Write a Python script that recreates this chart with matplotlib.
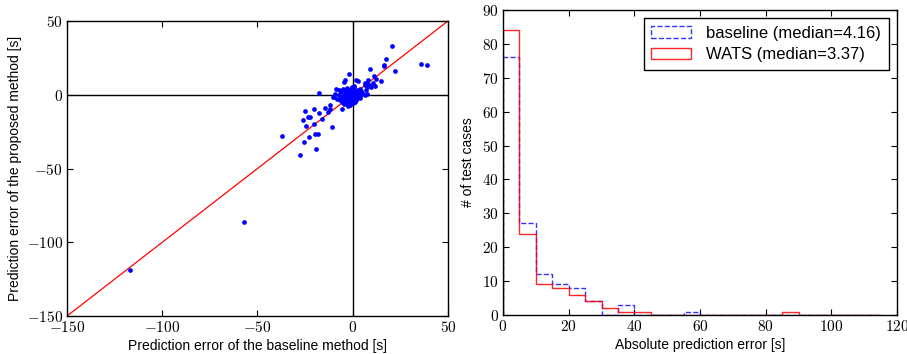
import numpy as np
import matplotlib
matplotlib.use('Agg')
import matplotlib.pyplot as plt
from matplotlib.ticker import FuncFormatter

plt.rcParams['font.family'] = ['Liberation Sans', 'DejaVu Sans']
plt.rcParams['mathtext.fontset'] = 'cm'

# scatter: prediction errors [s] (baseline, proposed)
baseline_err = [
    -117.1, -57.2, -37.1, -27.5, -19.1, -25.4, -22.9, -19.9, -18.2, -10.8,
    -24.7, -20.5, -26.1, -16.1, -23.6, -22.2, -17.8, -13.1, -25.0, -20.5,
    -14.3, -11.7, -12.1, -5.6, -17.5, -10.1, -8.6, -7.3, -4.7, -3.8,
    -1.9, -5.1, -4.0, 1.7, 2.8, 0.5, 8.9, 7.9, 6.5, 11.0,
    12.2, 15.0, 11.9, 16.3, 16.6, 17.5, 20.6, 22.0, 35.9, 38.8,
    6.3, 7.5, 9.3, 10.5, 9.8, 8.2, 6.8, 7.5, 6.3, 4.9,
    4.0, 3.0, -10.0, -6.1, -5.6, -3.0, -0.3, 0.2, -1.6, -3.8,
    -4.7, -2.1, -0.9, 0.5, 1.4, 2.3, -3.0, -1.2,
    -5.5, -4.8, -4.2, -3.9, -3.5, -3.2, -3.0, -2.7, -2.4, -2.2,
    -2.0, -1.8, -1.6, -1.4, -1.2, -1.0, -0.8, -0.6, -0.4, -0.2,
    0.0, 0.2, 0.4, 0.6, 0.8, 1.0, 1.2, 1.5, 1.8, 2.1,
    2.4, 2.8, 3.2, 3.6, -6.5, -7.0, -6.0, -4.5, -3.7, -2.9,
    -1.5, -0.3, 0.9, 1.7, 2.6, 4.2, -8.0, -9.2, -5.2, 0.3,
    1.3, 3.9, 5.0, -2.5, -0.9,
]
proposed_err = [
    -119.1, -86.1, -28.2, -40.9, -36.8, -32.3, -28.7, -26.7, -26.7, -21.9,
    -21.5, -19.9, -17.2, -16.7, -15.1, -15.4, -12.7, -11.8, -11.3, -9.5,
    -9.3, -9.9, -6.8, -9.5, 1.1, -1.6, 3.6, 3.2, 8.8, 9.7,
    14.2, 4.1, 3.2, 9.9, 9.0, 6.1, 17.6, 9.9, 8.1, 12.7,
    10.4, 9.3, 5.6, 19.2, 20.1, 24.4, 33.2, 15.8, 21.0, 19.9,
    6.6, 5.0, 5.9, 7.7, 5.0, 7.2, 3.2, 0.2, -0.2, 0.2,
    3.6, 2.0, -1.4, -2.5, -4.7, -6.3, -5.4, -3.6, -2.5, -3.6,
    -1.4, 0.5, 2.0, 3.2, 0.9, -1.4, -3.6, -0.9,
    -2.0, -0.5, -3.1, -1.2, 0.4, -4.5, -2.2, -0.8, 1.1, -5.6,
    -3.0, -1.5, 0.2, 2.4, -4.1, -2.4, -0.6, 1.3, -3.3, -1.1,
    0.6, -2.0, 2.9, -0.4, 1.6, -1.3, 0.3, 2.2, -0.6, 1.0,
    -2.1, 0.6, 1.8, -0.9, -3.6, -0.3, 1.8, -6.2, 2.5, 4.6,
    -6.8, 5.0, 4.4, -3.6, 3.5, 2.6, -2.6, 0.4, 3.0, -5.6,
    -4.6, -2.2, 1.2, -7.5, 3.6,
]

# histogram of absolute errors, 5 s bins from 0 to 115
bin_edges = list(range(0, 120, 5))
baseline_counts = [76, 27, 12, 9, 8, 4, 0, 3, 0, 0, 0, 1,
                   0, 0, 0, 0, 0, 0, 0, 0, 0, 0, 0]
wats_counts = [84, 24, 9, 8, 6, 4, 2, 1, 1, 0, 0, 0,
               0, 0, 0, 0, 0, 1, 0, 0, 0, 0, 0]
baseline_label = 'baseline (median=4.16)'
wats_label = 'WATS (median=3.37)'

math_fmt = FuncFormatter(lambda v, p: r'$%d$' % v)

fig = plt.figure(figsize=(9.07, 3.54), dpi=100)
ax1 = fig.add_axes([0.0739, 0.1073, 0.42, 0.8334])
ax2 = fig.add_axes([0.5546, 0.1102, 0.4344, 0.8616])

# left: scatter of errors
ax1.axhline(0, color='k', lw=1, zorder=1)
ax1.axvline(0, color='k', lw=1, zorder=1)
ax1.plot([-150, 50], [-150, 50], color='r', lw=0.9, zorder=2)
ax1.plot(baseline_err, proposed_err, 'o', color='b', ms=3.4, mec='none', zorder=3)
ax1.set_xlim(-150, 50)
ax1.set_ylim(-150, 50)
ax1.set_xticks([-150, -100, -50, 0, 50])
ax1.set_yticks([-150, -100, -50, 0, 50])
ax1.set_xlabel('Prediction error of the baseline method [s]', fontsize=10, labelpad=3)
ax1.set_ylabel('Prediction error of the proposed method [s]', fontsize=10, labelpad=3)

# right: histograms
left_edges = bin_edges[:-1]
ax2.hist(left_edges, bins=bin_edges, weights=baseline_counts, histtype='step',
         color='b', ls='--', lw=1, alpha=0.8, label=baseline_label)
ax2.hist(left_edges, bins=bin_edges, weights=wats_counts, histtype='step',
         color='r', lw=1, alpha=0.85, label=wats_label)
ax2.set_xlim(0, 120)
ax2.set_ylim(0, 90)
ax2.set_xticks(range(0, 121, 20))
ax2.set_yticks(range(0, 91, 10))
ax2.set_xlabel('Absolute prediction error [s]', fontsize=10, labelpad=3)
ax2.set_ylabel('# of test cases', fontsize=10, labelpad=5)
leg = ax2.legend(loc='upper right', fontsize=12, fancybox=False, framealpha=1,
                 borderaxespad=0.5, handlelength=2.4, labelspacing=0.4,
                 borderpad=0.45, handletextpad=0.9)
leg.get_frame().set_edgecolor('k')

for ax in (ax1, ax2):
    ax.xaxis.set_major_formatter(math_fmt)
    ax.yaxis.set_major_formatter(math_fmt)
    ax.tick_params(direction='in', top=True, right=True, length=4, labelsize=11, pad=3)
    for s in ax.spines.values():
        s.set_linewidth(1)

fig.savefig('out.png', dpi=100)
